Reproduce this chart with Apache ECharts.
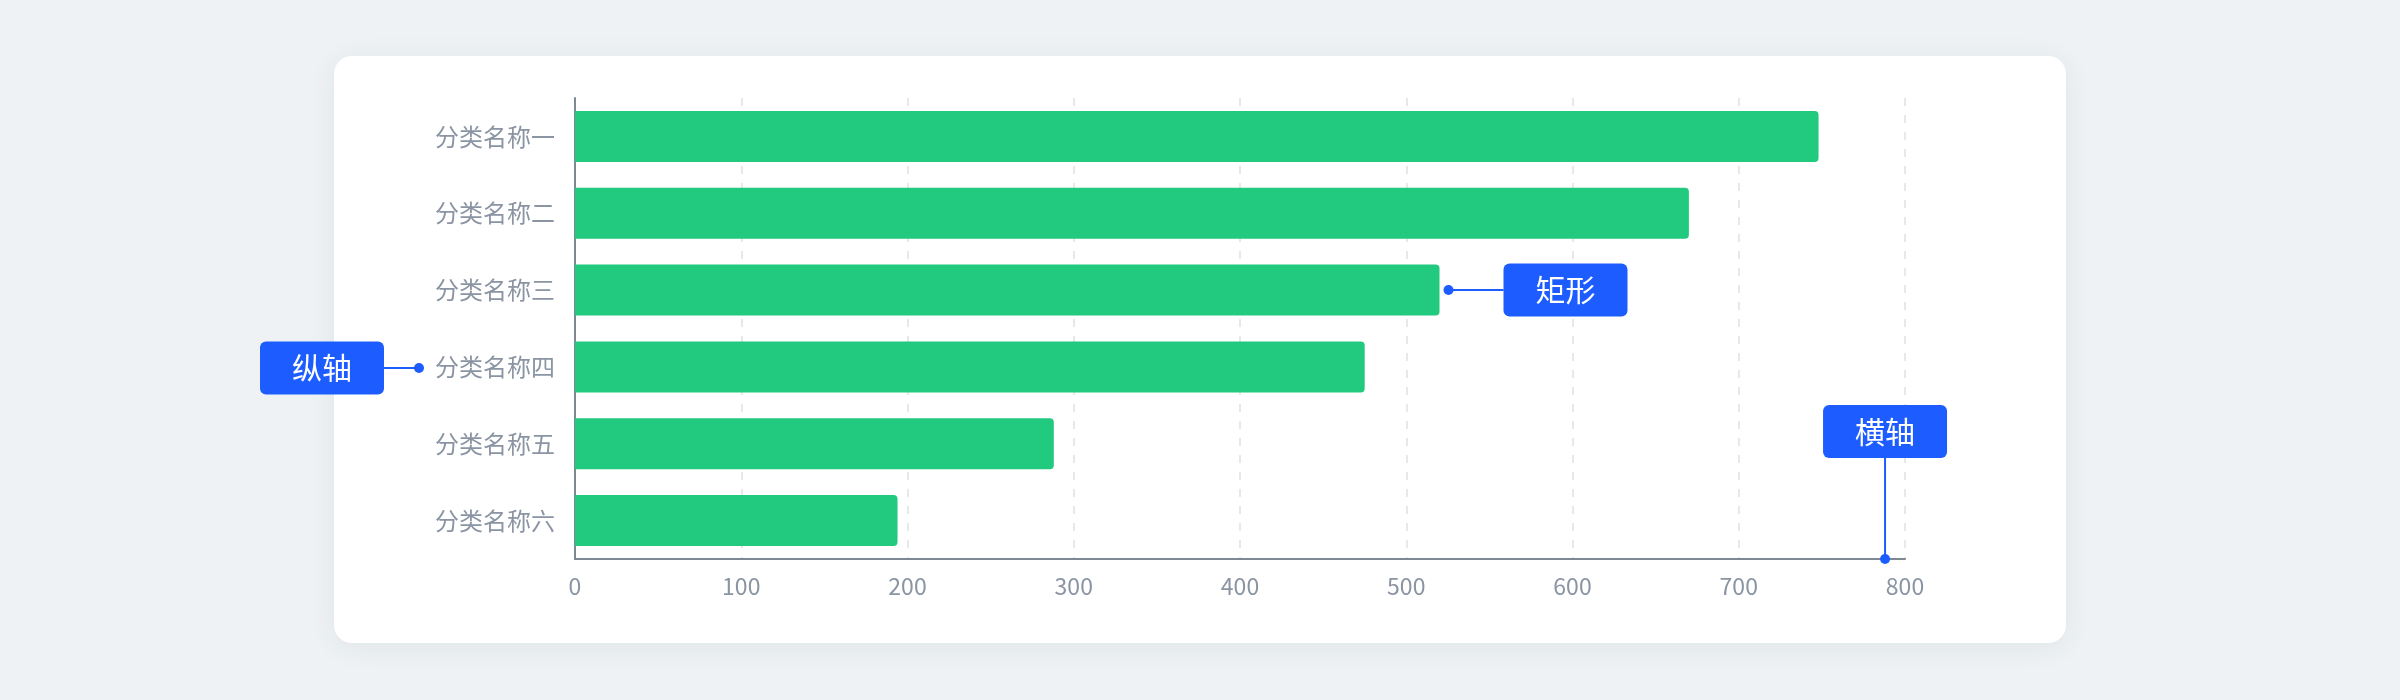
<!DOCTYPE html>
<html>
<head>
<meta charset="utf-8">
<script src="https://cdn.jsdelivr.net/npm/echarts@6/dist/echarts.min.js"></script>
<style>
  html, body { margin: 0; padding: 0; background: #eef2f4; }
  #card { position: absolute; left: 334px; top: 56px; width: 1732px; height: 587px;
          background: #ffffff; border-radius: 18px; box-shadow: 0 4px 28px rgba(40,60,80,0.07); }
  #chart { position: absolute; left: 0; top: 0; width: 2400px; height: 700px; }
</style>
</head>
<body>
<div id="card"></div>
<div id="chart"></div>
<script>
const categories = ['分类名称一', '分类名称二', '分类名称三', '分类名称四', '分类名称五', '分类名称六'];
const values = [748, 670, 520, 475, 288, 194];
const xTicks = { min: 0, max: 800, interval: 100 };
const annotations = { bar: '矩形', yAxis: '纵轴', xAxis: '横轴' };
const xAxisMarkValue = 788;

const BLUE = '#1d5cff';
const FONT = '"Noto Sans CJK SC", "Noto Sans", sans-serif';

const chart = echarts.init(document.getElementById('chart'), null, { renderer: 'canvas' });
chart.setOption({
  backgroundColor: 'transparent',
  animation: false,
  grid: { left: 575, right: 495, top: 98, bottom: 141, containLabel: false },
  xAxis: {
    type: 'value', min: xTicks.min, max: xTicks.max, interval: xTicks.interval,
    axisLine: { show: true, lineStyle: { color: '#7e8895', width: 2 } },
    axisTick: { show: false },
    axisLabel: { color: '#8a94a2', fontSize: 23, fontFamily: FONT, margin: 16 },
    splitLine: { show: true, lineStyle: { color: '#e8e8e8', width: 2, type: [8, 9] } }
  },
  yAxis: {
    type: 'category', data: categories, inverse: true,
    axisLine: { show: true, lineStyle: { color: '#7e8895', width: 2 } },
    axisTick: { show: false },
    axisLabel: { color: '#8a94a2', fontSize: 24, fontFamily: FONT, margin: 20 },
    splitLine: { show: false }
  },
  series: [{
    type: 'bar', data: values, barWidth: 51,
    itemStyle: { color: '#21ca7e', borderRadius: [0, 4, 4, 0] }
  }]
});

function callout(label, boxCx, boxCy, lineFrom, dot) {
  const w = 124, h = 53;
  return [
    { type: 'line', shape: { x1: lineFrom[0], y1: lineFrom[1], x2: dot[0], y2: dot[1] },
      style: { stroke: BLUE, lineWidth: 2 }, z: 100 },
    { type: 'circle', shape: { cx: dot[0], cy: dot[1], r: 5 }, style: { fill: BLUE }, z: 101 },
    { type: 'rect', shape: { x: boxCx - w / 2, y: boxCy - h / 2, width: w, height: h, r: 6 },
      style: { fill: BLUE }, z: 102 },
    { type: 'text', x: boxCx, y: boxCy,
      style: { text: label, fill: '#ffffff', font: '30px ' + FONT, align: 'center', verticalAlign: 'middle' }, z: 103 }
  ];
}

const bar3 = chart.convertToPixel({ gridIndex: 0 }, [values[2], categories[2]]);
const cat4 = chart.convertToPixel({ gridIndex: 0 }, [0, categories[3]]);
const xMark = chart.convertToPixel({ gridIndex: 0 }, [xAxisMarkValue, categories[5]]);
const axisY = chart.convertToPixel({ gridIndex: 0 }, [0, categories[5]])[1] + 76.8 / 2;

const g = [];
// 矩形
const d1 = [bar3[0] + 9, bar3[1]];
g.push(...callout(annotations.bar, d1[0] + 55 + 62, d1[1], [d1[0] + 55, d1[1]], d1));
// 纵轴
const d2 = [cat4[0] - 156, cat4[1] + 1];
g.push(...callout(annotations.yAxis, d2[0] - 35 - 62, d2[1], [d2[0] - 35, d2[1]], d2));
// 横轴
const d3 = [xMark[0], axisY];
g.push(...callout(annotations.xAxis, d3[0], d3[1] - 101 - 26.5, [d3[0], d3[1] - 101], d3));

chart.setOption({ graphic: { elements: g } });
</script>
</body>
</html>
